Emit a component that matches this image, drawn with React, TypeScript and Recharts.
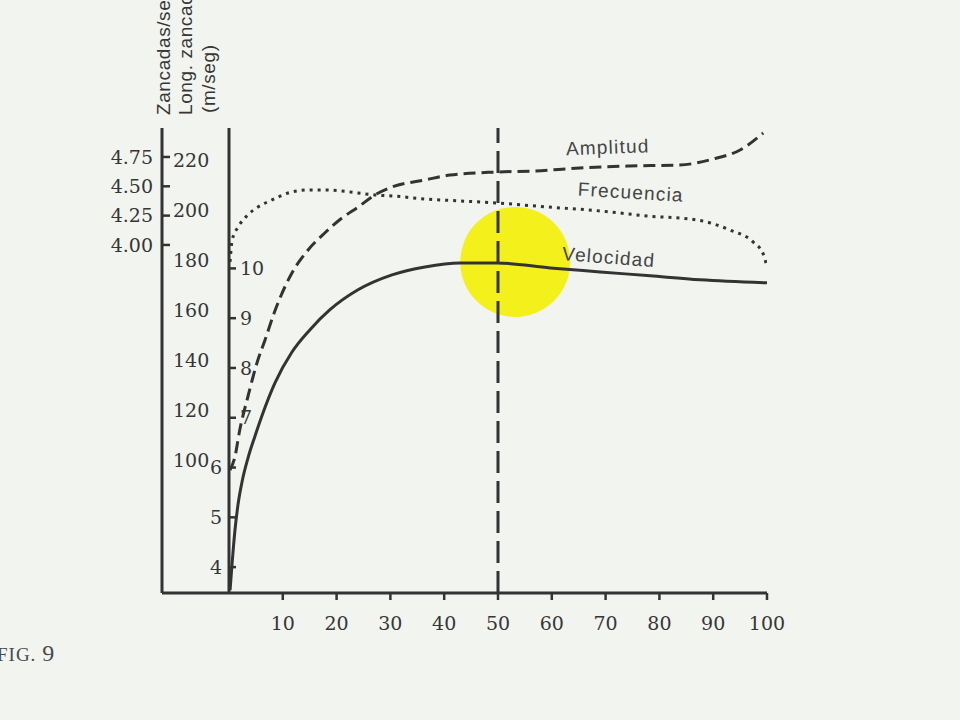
import React from 'react';
import { LineChart, Line, XAxis, YAxis, ReferenceLine, ReferenceDot, Label } from 'recharts';

// Axis ticks
const xTicks = [10, 20, 30, 40, 50, 60, 70, 80, 90, 100];
const zancadasTicks = [4.0, 4.25, 4.5, 4.75];
const longitudTicks = [100, 120, 140, 160, 180, 200, 220];
const velocidadTicks = [4, 5, 6, 7, 8, 9, 10];

// Velocidad (m/seg)
const velocidadX = [0.2, 0.56, 1.12, 1.67, 2.42, 3.53, 4.83, 6.13, 8.55, 11.71, 15.06, 18.77, 23.98, 30.3, 36.43, 42.94, 49.81, 59.7, 69.0, 78.3, 87.6, 100];
const velocidadY = [3.54, 4.05, 4.75, 5.25, 5.71, 6.19, 6.63, 7.04, 7.7, 8.32, 8.77, 9.17, 9.57, 9.87, 10.03, 10.11, 10.11, 10.01, 9.93, 9.85, 9.77, 9.71];

// Amplitud (long. zancada, cm)
const amplitudX = [0.2, 1.1, 2.0, 3.5, 5.2, 6.7, 8.6, 11.7, 14.7, 17.8, 21.0, 24.0, 27.1, 30.3, 36.4, 41.1, 49.8, 56.5, 65.2, 74.5, 83.8, 90.0, 95.0, 99.3];
const amplitudY = [96.2, 101.4, 112.2, 125.4, 139.0, 148.2, 160.2, 175.0, 184.2, 191.0, 197.0, 201.4, 206.2, 209.4, 212.2, 214.2, 215.4, 215.8, 217.0, 217.8, 218.2, 220.6, 224.2, 231.0];

// Frecuencia (zancadas/seg)
const frecuenciaX = [0.2, 0.6, 1.7, 3.5, 5.4, 8.0, 11.0, 14.7, 17.8, 21.0, 24.0, 27.1, 30.3, 36.4, 42.9, 49.8, 59.1, 69.0, 77.7, 87.0, 93.1, 97.4, 99.3, 100];
const frecuenciaY = [3.855, 4.043, 4.153, 4.256, 4.324, 4.384, 4.443, 4.469, 4.469, 4.46, 4.443, 4.426, 4.418, 4.392, 4.375, 4.358, 4.324, 4.29, 4.247, 4.213, 4.128, 4.026, 3.923, 3.812];

const toRows = (xs: number[], ys: number[]) => xs.map((x, i) => ({ x, y: ys[i] }));
const velocidadData = toRows(velocidadX, velocidadY);
const amplitudData = toRows(amplitudX, amplitudY);
const frecuenciaData = toRows(frecuenciaX, frecuenciaY);

const INK = '#333333';
const TEXT = '#363636';
const SERIF = '"DejaVu Serif", "Liberation Serif", serif';
const SANS = '"Liberation Sans", Arial, sans-serif';
const TICK_FONT = 19;

const renderTitles = (props: any) => {
  const vb = props.viewBox || { x: 102, y: 128, width: 60, height: 465 };
  const x0 = vb.x + vb.width;
  const y0 = vb.y - 13;
  return (
    <g fill={TEXT} fontFamily={SANS} fontSize={19} letterSpacing={0.6}>
      <text transform={`translate(${x0 + 8},${y0}) rotate(-90)`}>Zancadas/seg</text>
      <text transform={`translate(${x0 + 30},${y0}) rotate(-90)`}>Long. zancada</text>
      <text transform={`translate(${x0 + 53},${y0 - 2}) rotate(-90)`}>(m/seg)</text>
    </g>
  );
};

const renderVelTick = (props: any) => {
  const { x, y, payload } = props;
  const v = payload.value;
  const left = v < 7;
  return (
    <text
      x={left ? x - 18 : x}
      y={y}
      dy="0.35em"
      textAnchor={left ? 'end' : 'start'}
      fill={TEXT}
      fontSize={TICK_FONT}
      fontFamily={SERIF}
    >
      {v}
    </text>
  );
};

const curveLabelStyle = { fill: '#454545', fontSize: 19, fontFamily: SANS, letterSpacing: 1.2 };

export default function App() {
  return (
    <div style={{ position: 'fixed', left: 0, top: 0, width: 960, height: 720, background: '#f2f4f0', overflow: 'hidden' }}>
      <LineChart width={960} height={720} margin={{ top: 128, right: 193, bottom: 87, left: 102 }}>
        <XAxis
          xAxisId="x"
          type="number"
          dataKey="x"
          domain={[-12.45, 100]}
          ticks={xTicks}
          allowDataOverflow
          height={40}
          axisLine={{ stroke: INK, strokeWidth: 3 }}
          tickLine={{ stroke: INK, strokeWidth: 2.5 }}
          tickSize={7}
          tickMargin={17}
          tick={{ fill: TEXT, fontSize: TICK_FONT, fontFamily: SERIF }}
        />
        <YAxis
          yAxisId="zan"
          orientation="left"
          type="number"
          width={60}
          domain={[1.033, 4.997]}
          allowDataOverflow
          ticks={zancadasTicks}
          tickFormatter={(v: number) => v.toFixed(2)}
          axisLine={{ stroke: INK, strokeWidth: 3 }}
          tickLine={{ stroke: INK, strokeWidth: 2.5 }}
          tickSize={-8}
          tickMargin={17}
          tick={{ fill: TEXT, fontSize: TICK_FONT, fontFamily: SERIF }}
          label={<Label content={renderTitles} />}
        />
        <YAxis
          yAxisId="long"
          orientation="left"
          mirror
          type="number"
          width={67}
          domain={[47, 233]}
          allowDataOverflow
          ticks={longitudTicks}
          axisLine={false}
          tickLine={false}
          tickSize={0}
          tickMargin={11}
          tick={{ fill: TEXT, fontSize: TICK_FONT, fontFamily: SERIF }}
        />
        <YAxis
          yAxisId="vel"
          orientation="left"
          mirror
          type="number"
          width={60}
          domain={[3.48, 12.82]}
          allowDataOverflow
          ticks={velocidadTicks}
          axisLine={{ stroke: INK, strokeWidth: 3 }}
          tickLine={{ stroke: INK, strokeWidth: 2.5 }}
          tickSize={7}
          tickMargin={4}
          tick={renderVelTick}
        />
        <ReferenceDot
          xAxisId="x"
          yAxisId="vel"
          x={53.2}
          y={10.13}
          r={55}
          fill="#f4f01c"
          stroke="none"
          zIndex={-50}
        />
        <ReferenceLine
          xAxisId="x"
          yAxisId="vel"
          x={50}
          stroke={INK}
          strokeWidth={3}
          strokeDasharray="22 8"
        />
        <Line
          xAxisId="x"
          yAxisId="long"
          data={amplitudData}
          dataKey="y"
          type="monotone"
          stroke={INK}
          strokeWidth={3}
          strokeDasharray="12 6"
          dot={false}
          isAnimationActive={false}
        />
        <Line
          xAxisId="x"
          yAxisId="zan"
          data={frecuenciaData}
          dataKey="y"
          type="monotone"
          stroke={INK}
          strokeWidth={3}
          strokeDasharray="3 5"
          dot={false}
          isAnimationActive={false}
        />
        <Line
          xAxisId="x"
          yAxisId="vel"
          data={velocidadData}
          dataKey="y"
          type="monotone"
          stroke={INK}
          strokeWidth={3}
          dot={false}
          isAnimationActive={false}
        />
        <ReferenceDot xAxisId="x" yAxisId="long" x={70.4} y={225.4} r={0} fill="none" stroke="none">
          <Label value="Amplitud" position="center" angle={-2} {...curveLabelStyle} />
        </ReferenceDot>
        <ReferenceDot xAxisId="x" yAxisId="zan" x={74.7} y={4.452} r={0} fill="none" stroke="none">
          <Label value="Frecuencia" position="center" angle={3.4} {...curveLabelStyle} />
        </ReferenceDot>
        <ReferenceDot xAxisId="x" yAxisId="vel" x={70.6} y={10.23} r={0} fill="none" stroke="none">
          <Label value="Velocidad" position="center" angle={4.4} {...curveLabelStyle} />
        </ReferenceDot>
      </LineChart>
      <div
        style={{
          position: 'absolute',
          left: -3,
          top: 640,
          fontFamily: '"Liberation Serif", serif',
          fontSize: 19,
          color: '#4a4a4a',
          letterSpacing: 1,
        }}
      >
        FIG. <span style={{ fontSize: 24 }}>9</span>
      </div>
    </div>
  );
}
